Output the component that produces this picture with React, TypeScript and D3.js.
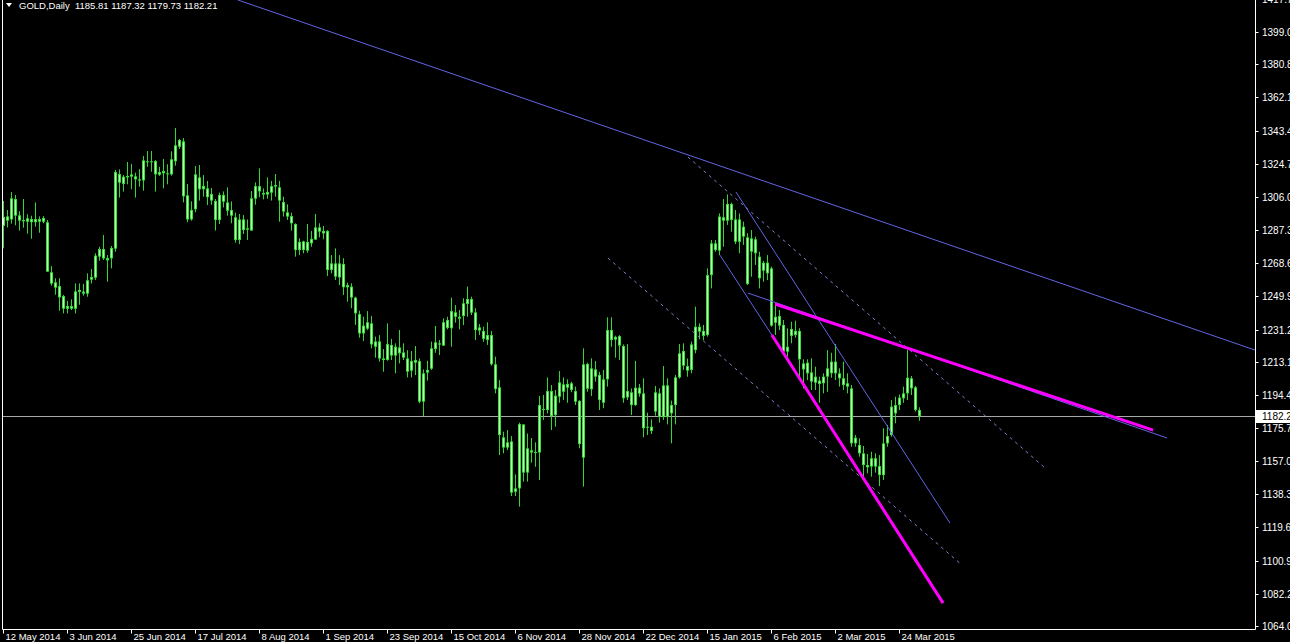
import React, { useEffect } from "react";
import * as d3 from "d3";

const W = 1290;
const H = 642;

const openP = [
1289.6,1292.6,1293.3,1304.8,1295.6,1292.2,1293.9,1291.7,1293.5,1292.0,
1294.1,1291.7,1263.5,1257.8,1255.7,1250.1,1242.9,1242.9,1242.9,1253.5,
1251.4,1251.4,1259.3,1260.4,1276.6,1276.6,1270.2,1271.3,1276.8,1318.9,
1313.3,1317.0,1318.7,1317.6,1315.2,1315.3,1325.5,1326.1,1326.2,1318.5,
1320.6,1318.7,1318.7,1326.1,1334.3,1337.3,1306.9,1293.3,1299.0,1317.0,
1312.2,1310.8,1307.6,1303.7,1293.0,1307.1,1302.9,1298.6,1294.5,1281.7,
1293.3,1288.3,1287.0,1305.0,1312.1,1308.2,1307.3,1308.4,1312.7,1311.4,
1303.1,1297.3,1295.2,1290.7,1280.6,1276.0,1280.6,1279.8,1281.9,1288.8,
1285.4,1286.8,1264.8,1268.5,1260.6,1268.2,1255.0,1255.4,1249.2,1239.9,
1229.0,1231.7,1234.7,1221.5,1224.5,1214.9,1214.0,1222.5,1216.5,1221.1,
1218.3,1214.9,1208.0,1214.0,1213.4,1190.5,1206.9,1209.1,1220.2,1223.4,
1222.1,1236.6,1231.9,1240.9,1237.3,1238.8,1245.6,1248.4,1240.9,1232.4,
1230.4,1225.3,1228.1,1211.6,1198.6,1170.4,1164.6,1168.1,1139.7,1141.6,
1177.7,1150.5,1163.1,1161.8,1161.8,1186.4,1185.8,1196.5,1183.0,1193.3,
1200.3,1198.4,1200.9,1196.5,1190.9,1158.9,1211.8,1197.5,1208.7,1205.6,
1189.9,1203.1,1230.9,1225.5,1227.5,1221.9,1192.9,1195.8,1188.6,1198.4,
1195.2,1175.8,1174.0,1184.9,1195.2,1182.0,1199.7,1183.9,1188.6,1204.2,
1219.1,1208.0,1208.4,1219.6,1232.8,1227.6,1228.1,1261.9,1279.8,1275.7,
1292.6,1292.6,1302.0,1293.3,1280.7,1289.2,1283.2,1275.1,1282.1,1272.3,
1264.4,1262.9,1265.7,1235.0,1238.8,1233.8,1218.7,1227.6,1230.5,1230.4,
1212.1,1212.5,1207.0,1204.6,1200.5,1200.9,1204.6,1206.5,1213.1,1206.5,
1203.7,1199.0,1198.0,1167.0,1166.1,1161.4,1154.8,1153.9,1158.6,1154.2,
1149.1,1167.0,1171.7,1188.6,1188.6,1192.4,1195.2,1203.7,1198.6,1185.81,
];

const highP = [
1303.7,1298.6,1308.8,1307.1,1297.9,1304.8,1296.2,1295.4,1302.9,1295.0,
1295.2,1293.0,1267.0,1260.1,1260.1,1250.7,1247.3,1248.2,1257.2,1257.2,
1256.9,1262.9,1265.3,1274.2,1277.9,1284.5,1273.2,1278.3,1321.2,1321.5,
1318.3,1325.7,1324.6,1319.7,1321.7,1329.1,1331.9,1331.9,1326.8,1323.0,
1327.4,1324.4,1331.7,1344.9,1338.7,1339.2,1313.3,1303.5,1323.4,1324.0,
1318.3,1315.0,1311.0,1304.8,1308.4,1309.1,1311.4,1303.5,1297.1,1296.4,
1295.8,1293.3,1309.3,1314.2,1322.1,1310.8,1317.0,1315.0,1318.9,1315.0,
1306.1,1301.8,1297.1,1291.1,1282.6,1281.3,1290.7,1286.8,1296.4,1291.1,
1289.6,1287.3,1273.2,1277.0,1273.2,1271.4,1257.6,1257.3,1249.7,1241.8,
1238.4,1241.6,1238.8,1227.2,1228.1,1220.2,1234.7,1225.9,1223.4,1230.9,
1223.4,1219.6,1219.1,1221.9,1214.9,1208.7,1213.6,1224.4,1233.2,1225.3,
1237.5,1238.4,1249.2,1245.0,1242.2,1248.8,1255.4,1249.7,1243.2,1234.3,
1232.8,1235.3,1230.4,1215.9,1202.7,1173.6,1174.5,1171.1,1149.5,1178.7,
1177.7,1172.6,1170.0,1167.6,1193.7,1194.3,1204.2,1199.9,1197.1,1207.8,
1204.2,1203.1,1201.8,1199.0,1191.4,1220.6,1212.5,1215.0,1213.4,1207.4,
1208.4,1238.1,1238.1,1227.7,1228.1,1222.8,1223.0,1198.0,1213.5,1200.5,
1203.7,1184.3,1180.5,1199.4,1198.0,1210.6,1203.7,1191.1,1205.6,1223.0,
1223.4,1214.9,1224.4,1244.1,1234.7,1233.8,1265.7,1281.7,1281.7,1296.7,
1304.8,1307.4,1302.7,1298.6,1296.7,1292.0,1285.5,1287.3,1283.6,1275.1,
1269.9,1273.2,1266.7,1245.9,1242.2,1236.6,1231.9,1235.6,1236.2,1231.9,
1214.4,1214.4,1215.0,1210.2,1204.6,1206.5,1219.6,1218.1,1223.0,1209.3,
1213.1,1206.5,1199.9,1171.7,1169.8,1165.5,1161.0,1162.3,1161.4,1160.4,
1175.5,1177.4,1191.4,1193.3,1194.6,1199.0,1219.6,1205.0,1199.4,1187.32,
];

const lowP = [
1277.0,1288.8,1290.9,1290.0,1287.0,1288.6,1285.3,1282.4,1289.2,1285.8,
1291.1,1263.8,1255.9,1250.8,1241.8,1240.3,1240.3,1242.2,1240.3,1245.2,
1250.3,1249.7,1257.2,1259.1,1270.0,1270.4,1258.2,1265.7,1275.1,1305.6,
1309.0,1313.1,1310.3,1305.6,1311.8,1309.5,1323.0,1320.2,1309.0,1317.8,
1310.8,1313.1,1318.0,1323.6,1333.0,1302.9,1291.7,1292.6,1297.3,1303.9,
1306.1,1301.4,1301.6,1287.0,1290.7,1300.1,1295.4,1291.1,1280.2,1279.4,
1285.1,1281.7,1287.0,1301.6,1305.8,1304.6,1305.0,1303.9,1306.1,1292.0,
1294.9,1293.0,1287.0,1272.3,1273.2,1274.2,1274.5,1277.9,1281.7,1283.2,
1282.1,1261.4,1262.9,1259.1,1256.3,1250.7,1246.9,1243.2,1233.8,1226.6,
1224.7,1230.9,1220.6,1215.3,1213.1,1207.4,1213.6,1214.0,1206.5,1212.1,
1214.0,1204.2,1204.2,1205.5,1189.6,1182.4,1202.4,1208.4,1218.1,1216.8,
1222.1,1231.3,1221.5,1235.1,1231.3,1233.7,1238.4,1239.4,1225.3,1228.1,
1224.3,1222.5,1210.8,1195.2,1160.4,1161.4,1163.2,1137.3,1137.3,1131.3,
1145.4,1145.4,1156.1,1153.8,1146.3,1180.2,1183.9,1174.5,1176.4,1189.9,
1191.4,1189.9,1195.8,1188.6,1164.2,1142.6,1196.1,1193.7,1201.8,1185.8,
1186.8,1199.0,1221.5,1215.3,1214.0,1189.9,1191.4,1183.0,1188.1,1193.3,
1170.4,1171.7,1172.3,1182.6,1178.7,1180.2,1177.7,1167.0,1177.7,1203.5,
1208.4,1204.6,1206.5,1217.8,1225.7,1225.3,1227.2,1254.4,1275.1,1273.2,
1277.9,1290.2,1286.4,1279.4,1274.2,1278.9,1256.3,1261.0,1267.6,1254.4,
1258.2,1259.1,1232.8,1228.1,1230.9,1216.8,1215.9,1223.4,1226.6,1202.7,
1198.0,1202.7,1197.1,1197.1,1189.9,1195.2,1196.1,1204.0,1202.7,1199.0,
1197.1,1195.2,1165.1,1165.1,1159.5,1148.2,1150.1,1148.2,1150.5,1142.9,
1146.3,1165.1,1170.8,1178.3,1185.8,1189.9,1191.4,1194.3,1184.9,1179.73,
];

const closeP = [
1294.8,1295.0,1305.2,1295.4,1292.6,1293.0,1292.0,1293.5,1291.7,1293.5,
1292.0,1263.8,1257.1,1254.8,1249.3,1242.9,1244.5,1244.5,1252.7,1252.4,
1252.6,1259.0,1260.8,1272.9,1272.3,1271.3,1271.5,1277.2,1320.0,1314.0,
1317.4,1317.8,1317.4,1315.9,1315.9,1326.6,1326.1,1325.5,1318.7,1320.0,
1319.3,1319.3,1327.2,1335.1,1338.1,1306.3,1293.3,1298.6,1318.7,1310.3,
1310.3,1305.8,1303.9,1293.0,1307.1,1303.3,1298.2,1295.4,1281.7,1293.3,
1287.3,1287.5,1305.2,1312.1,1309.1,1307.3,1308.8,1312.1,1311.8,1303.9,
1297.7,1294.9,1291.1,1276.0,1276.0,1280.9,1275.7,1282.3,1288.8,1286.4,
1286.8,1264.8,1268.5,1261.0,1268.5,1255.0,1256.3,1249.2,1240.3,1229.0,
1233.4,1235.3,1222.8,1224.5,1214.8,1214.0,1223.0,1216.5,1221.5,1217.8,
1215.3,1207.4,1213.4,1212.5,1190.5,1206.5,1208.4,1220.6,1224.0,1222.7,
1235.3,1232.1,1241.6,1238.4,1238.4,1246.0,1248.4,1240.7,1230.9,1230.6,
1225.9,1228.1,1211.6,1197.6,1171.7,1164.6,1167.6,1139.2,1141.6,1177.9,
1150.5,1164.2,1161.8,1162.1,1188.6,1185.8,1196.5,1182.4,1193.9,1201.4,
1196.1,1200.5,1197.1,1190.5,1166.6,1211.6,1197.8,1209.3,1204.6,1191.4,
1203.1,1230.9,1225.3,1227.0,1222.1,1192.4,1196.5,1188.6,1198.4,1195.0,
1175.5,1176.4,1176.4,1195.8,1182.0,1199.7,1182.0,1188.6,1204.2,1217.8,
1210.8,1210.6,1222.8,1232.8,1230.0,1230.4,1261.9,1279.8,1276.0,1294.9,
1294.5,1302.0,1293.0,1280.7,1293.3,1283.6,1256.9,1282.6,1274.2,1260.1,
1268.9,1268.9,1233.4,1238.4,1233.4,1218.7,1221.5,1231.5,1228.1,1214.4,
1208.7,1206.5,1201.8,1201.2,1202.4,1204.6,1209.3,1213.1,1206.5,1203.7,
1199.9,1200.9,1167.0,1170.2,1161.4,1154.8,1153.5,1158.6,1153.9,1149.1,
1167.0,1171.1,1187.7,1183.9,1192.8,1195.2,1204.0,1198.0,1185.8,1182.21,
];

const priceTicks = [1417.7,1399.0,1380.8,1362.1,1343.4,1324.7,1306.0,1287.3,1268.6,1249.9,1231.2,1213.1,1194.4,1175.7,1157.0,1138.3,1119.6,1100.9,1082.2,1064.0];

const dateLabels = ["12 May 2014","3 Jun 2014","25 Jun 2014","17 Jul 2014","8 Aug 2014","1 Sep 2014","23 Sep 2014","15 Oct 2014","6 Nov 2014","28 Nov 2014","22 Dec 2014","15 Jan 2015","6 Feb 2015","2 Mar 2015","24 Mar 2015"];
const dateBarStep = 16;

// trend lines: [bar1, price1, bar2, price2]
const solidBlueLines = [
  [58.6, 1417.05, 312.9, 1219.6],
  [183.1, 1308.8, 236.6, 1122.1],
  [179.1, 1273.2, 192.1, 1228.1],
  [186.1, 1251.8, 290.9, 1170.0],
];
const dashedLines = [
  [171.1, 1328.5, 260.4, 1153.1],
  [151.1, 1271.5, 239.6, 1098.4],
];
const magentaLines = [
  [192.9, 1245.6, 287.4, 1174.5],
  [192.1, 1228.1, 234.9, 1076.9],
];

const lastPrice = 1182.21;
const title = "GOLD,Daily  1185.81 1187.32 1179.73 1182.21";

export default function App() {
  useEffect(() => {
    document.body.style.margin = "0";
    document.body.style.background = "#000";
  }, []);

  const plotLeft = 2.5;
  const plotRight = 1255.5;
  const plotBottom = 629.5;
  const x = d3.scaleLinear().domain([0, 229]).range([3.5, 919.5]);
  const y = d3.scaleLinear().domain([1062.3, 1417.05]).range([629, 0]);
  const font = "'Liberation Sans', Arial, sans-serif";

  const seg = (l: number[]) => ({ x1: x(l[0]), y1: y(l[1]), x2: x(l[2]), y2: y(l[3]) });

  return (
    <svg width={W} height={H} style={{ position: "absolute", left: 0, top: 0, background: "#000" }}>
      <defs>
        <clipPath id="plot">
          <rect x={3} y={0} width={plotRight - 3} height={plotBottom} />
        </clipPath>
      </defs>
      <rect x={0} y={0} width={W} height={H} fill="#000" />
      <g clipPath="url(#plot)">
        <line x1={plotLeft} x2={plotRight} y1={Math.round(y(lastPrice)) + 0.5} y2={Math.round(y(lastPrice)) + 0.5} stroke="#a8a8a8" strokeWidth={1} />
        {openP.map((o, i) => {
          const cx = x(i);
          const c = closeP[i];
          const top = y(Math.max(o, c));
          const bot = y(Math.min(o, c));
          const h = Math.max(1, bot - top);
          return (
            <g key={i}>
              <line x1={cx} x2={cx} y1={y(highP[i])} y2={y(lowP[i])} stroke="#33d633" strokeWidth={1} />
              <rect x={cx - 1.5} y={top} width={3} height={h} fill="#33e033" />
              {h > 2 && <rect x={cx - 0.5} y={top + 1} width={1} height={h - 2} fill="#c0ffc0" />}
            </g>
          );
        })}
        {solidBlueLines.map((l, i) => {
          const s = seg(l);
          return <line key={"b" + i} {...s} stroke="#6464e6" strokeWidth={1} />;
        })}
        {dashedLines.map((l, i) => {
          const s = seg(l);
          return <line key={"d" + i} {...s} stroke="#8282d2" strokeWidth={1} strokeDasharray="3,4" />;
        })}
        {magentaLines.map((l, i) => {
          const s = seg(l);
          return <line key={"m" + i} {...s} stroke="#ff00ff" strokeWidth={3} />;
        })}
      </g>
      <line x1={plotLeft} x2={plotLeft} y1={0} y2={plotBottom} stroke="#fff" strokeWidth={1} />
      <line x1={plotRight} x2={plotRight} y1={0} y2={plotBottom} stroke="#fff" strokeWidth={1} />
      <line x1={plotLeft} x2={plotRight} y1={plotBottom} y2={plotBottom} stroke="#fff" strokeWidth={1} />
      {priceTicks.map((p, i) => {
        const yy = Math.round(y(p)) + 0.5;
        return (
          <g key={"p" + i}>
            <line x1={plotRight} x2={plotRight + 3} y1={yy} y2={yy} stroke="#fff" />
            <text x={1262} y={yy + 3.5} fill="#fff" fontSize={10} fontFamily={font}>{p.toFixed(1)}</text>
          </g>
        );
      })}
      <rect x={1256} y={Math.round(y(lastPrice)) - 6} width={34} height={13} fill="#fff" />
      <text x={1262} y={Math.round(y(lastPrice)) + 4} fill="#000" fontSize={10} fontFamily={font}>{lastPrice.toFixed(1)}</text>
      {dateLabels.map((d, k) => {
        const xx = Math.floor(x(k * dateBarStep)) + 0.5;
        return (
          <g key={"t" + k}>
            <line x1={xx} x2={xx} y1={plotBottom} y2={plotBottom + 4} stroke="#fff" />
            <text x={xx + 2} y={640} fill="#fff" fontSize={9.5} fontFamily={font}>{d}</text>
          </g>
        );
      })}
      <path d="M6,3 L12,3 L9,7 Z" fill="#fff" />
      <text x={19} y={8.5} fill="#fff" fontSize={9.5} fontFamily={font} xmlSpace="preserve">{title}</text>
    </svg>
  );
}
